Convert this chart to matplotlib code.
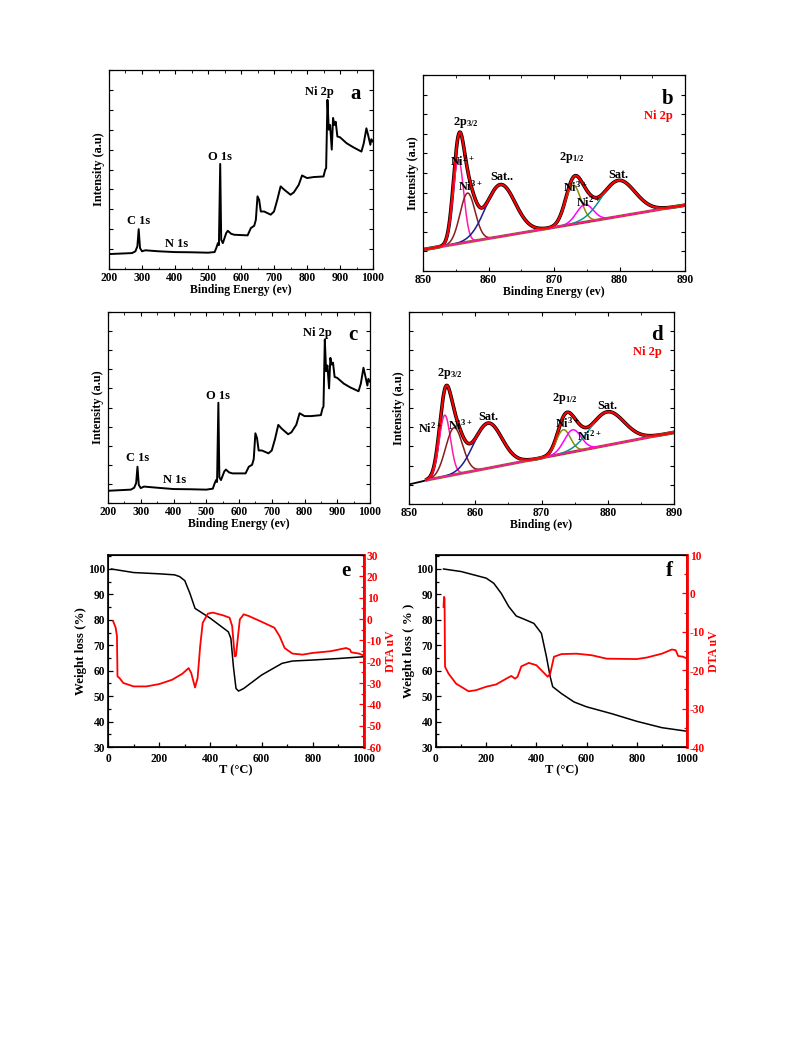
import numpy as np
import matplotlib
matplotlib.use("Agg")
import matplotlib.pyplot as plt
from matplotlib.ticker import MultipleLocator

plt.rcParams['font.family'] = ['Liberation Serif', 'DejaVu Serif']
plt.rcParams['font.weight'] = 'bold'
plt.rcParams['mathtext.fontset'] = 'custom'
plt.rcParams['mathtext.rm'] = 'Liberation Serif:bold'
plt.rcParams['mathtext.bf'] = 'Liberation Serif:bold'
plt.rcParams['mathtext.default'] = 'rm'
plt.rcParams['axes.unicode_minus'] = False

# ---------------- survey spectra (a, c) ----------------
a_energy = [200, 270, 280, 286, 290, 294, 300, 310, 350, 400, 450, 500, 520, 525, 530, 533,
            537, 540, 545, 555, 560, 570, 580, 620, 630, 640, 645, 650, 655, 660, 670, 690,
            700, 710, 720, 730, 750, 760, 775, 785, 800, 820, 850, 855, 858, 862, 866, 870,
            875, 879, 883, 887, 892, 900, 920, 940, 965, 972, 980, 985, 992, 995, 1000]
a_counts = [7.5, 8.0, 8.9, 11.4, 20.0, 10.5, 8.9, 9.4, 8.9, 8.5, 8.4, 8.2, 8.5, 10.5, 13.0, 12.0,
            52.8, 14.7, 13.0, 18.0, 19.2, 17.7, 17.2, 16.9, 20.6, 21.7, 24.7, 36.5, 34.8, 28.9, 28.9, 27.3,
            28.9, 34.8, 41.5, 40.0, 37.3, 38.5, 42.3, 47.0, 45.7, 46.2, 46.5, 49.8, 50.7, 85.0, 70.0, 72.4,
            60.0, 75.9, 72.4, 74.0, 66.6, 66.2, 63.2, 61.2, 59.0, 63.2, 70.7, 67.4, 62.4, 65.2, 64.0]

c_energy = [200, 270, 280, 286, 290, 294, 300, 310, 350, 400, 450, 500, 520, 525, 530, 533,
            537, 540, 545, 555, 560, 570, 580, 620, 630, 640, 645, 650, 655, 660, 670, 690,
            700, 710, 720, 730, 750, 760, 775, 785, 800, 820, 850, 855, 858, 862, 866, 870,
            875, 879, 883, 887, 892, 900, 920, 940, 965, 972, 980, 985, 992, 995, 1000]
c_counts = [6.4, 7.0, 8.0, 10.5, 19.0, 9.5, 7.8, 8.6, 8.0, 7.3, 7.2, 7.0, 7.5, 10.0, 12.0, 11.0,
            52.5, 13.5, 12.0, 16.5, 17.5, 16.0, 15.5, 15.5, 19.0, 20.0, 23.0, 36.5, 34.0, 27.5, 27.5, 26.0,
            27.5, 33.5, 40.9, 39.0, 36.0, 37.0, 41.0, 47.0, 45.5, 45.5, 46.0, 49.5, 50.5, 85.6, 69.0, 72.0,
            60.0, 76.0, 72.5, 73.5, 66.0, 65.5, 62.5, 60.5, 58.5, 62.5, 70.8, 67.0, 61.5, 65.0, 63.5]

survey_labels = ["C 1s", "N 1s", "O 1s", "Ni 2p"]
a_label_pos = [(290, 24), (404, 12.5), (535, 56.5), (838, 89)]
c_label_pos = [(290, 23.5), (404, 12), (535, 56), (838, 89)]

# ---------------- Ni 2p fits (b, d) ----------------
peak_colors = ['#ff1aa8', '#8b1c1c', '#1c1c8c', '#8c8c10', '#ff00ff', '#109090']

b_base_e = [850, 890]
b_base_i = [10.9, 33.6]
b_centers = [855.4, 856.8, 861.8, 872.9, 874.7, 879.8]
b_heights = [43.0, 25.0, 26.5, 20.0, 9.0, 18.4]
b_fwhm = [1.9, 2.7, 5.3, 2.8, 3.0, 6.0]

d_base_e = [852.7, 890]
d_base_i = [12.5, 37.3]
d_centers = [855.4, 856.8, 861.9, 873.3, 874.7, 879.9]
d_heights = [32.0, 24.5, 23.5, 12.5, 11.5, 17.4]
d_fwhm = [2.0, 3.0, 5.0, 2.5, 3.0, 6.0]
d_pre_e = [850.0, 851.0, 852.0, 852.7]
d_pre_i = [10.2, 11.0, 11.8, 12.5]

b_texts = [("2p$_{3/2}$", 856.5, 76), ("Ni$^{2+}$", 856.0, 56), ("Ni$^{3+}$", 857.3, 43),
           ("Sat..", 862.0, 48), ("2p$_{1/2}$", 872.7, 58), ("Ni$^{3+}$", 873.2, 42.5),
           ("Ni$^{2+}$", 875.2, 35), ("Sat.", 879.8, 49)]
d_texts = [("2p$_{3/2}$", 856.1, 68), ("Ni$^{2+}$", 853.3, 39.5), ("Ni$^{3+}$", 857.8, 41),
           ("Sat.", 861.9, 45.5), ("2p$_{1/2}$", 873.5, 55), ("Ni$^{3+}$", 873.9, 42),
           ("Ni$^{2+}$", 877.3, 35), ("Sat.", 880.0, 51)]

# ---------------- thermal analysis (e, f) ----------------
e_tg_t = [13, 100, 200, 260, 280, 300, 320, 340, 360, 400, 470, 480, 490, 500, 510, 530,
          600, 680, 720, 800, 900, 1000]
e_tg_w = [100, 98.6, 98.1, 97.7, 97.0, 95.4, 90.4, 84.5, 83.2, 80.6, 75.3, 72.7, 61.5, 53.0, 52.0, 53.0,
          58.3, 62.9, 63.8, 64.2, 64.8, 65.5]
e_dta_t = [20, 30, 35, 37, 45, 60, 100, 150, 200, 250, 290, 315, 325, 340, 350, 360, 370, 390,
           410, 450, 475, 485, 495, 500, 505, 515, 530, 550, 600, 650, 670, 690, 720, 760, 800,
           870, 930, 945, 950, 980, 1000]
e_dta_v = [-1.0, -4.1, -8.0, -26.9, -27.7, -30.0, -31.6, -31.6, -30.5, -28.5, -25.7, -23.0, -25.3,
           -32.1, -27.7, -12.8, -1.8, 2.5, 3.0, 1.7, 0.6, -3.3, -17.5, -17.2, -11.2, -0.2, 2.2, 1.4,
           -1.3, -4.1, -8.0, -13.6, -16.2, -16.7, -15.9, -15.1, -13.6, -14.3, -15.6, -16.2, -17.2]

f_tg_t = [30, 100, 150, 200, 230, 260, 290, 320, 350, 390, 420, 440, 455, 465, 500, 550, 600,
          700, 800, 900, 1000]
f_tg_w = [100, 99.0, 97.7, 96.4, 94.4, 90.4, 85.2, 81.5, 80.3, 78.6, 74.7, 65.5, 57.6, 53.7, 51.0,
          47.7, 45.8, 43.1, 40.1, 37.6, 36.2]
f_dta_t = [30, 32, 34, 36, 50, 80, 130, 160, 200, 240, 280, 300, 315, 325, 340, 370, 400, 430,
           445, 455, 470, 500, 560, 620, 680, 800, 840, 900, 940, 955, 965, 985, 1000]
f_dta_v = [-3.5, -0.9, -1.3, -19.1, -20.9, -23.5, -25.5, -25.2, -24.3, -23.7, -22.2, -21.5, -22.2,
           -21.7, -19.0, -18.1, -18.7, -20.7, -21.7, -20.9, -16.5, -15.8, -15.7, -16.1, -17.0, -17.1,
           -16.7, -15.7, -14.6, -14.8, -16.3, -16.5, -17.0]

W, H = 793, 1057
fig = plt.figure(figsize=(W / 100, H / 100), dpi=100)


def make_axes(x0, y0, x1, y1):
    return fig.add_axes([x0 / W, 1 - y1 / H, (x1 - x0) / W, (y1 - y0) / H])


def style_xps(ax, xmin, xmax, major, minor, xlabel):
    ax.set_xlim(xmin, xmax)
    ax.set_ylim(0, 100)
    ax.xaxis.set_major_locator(MultipleLocator(major))
    ax.xaxis.set_minor_locator(MultipleLocator(minor))
    ax.yaxis.set_major_locator(MultipleLocator(10))
    ax.tick_params(which='both', direction='in', top=True, right=True, labelsize=8.3, pad=2.5)
    ax.tick_params(which='major', length=3, width=0.8)
    ax.tick_params(which='minor', length=1.8, width=0.6)
    ax.tick_params(axis='y', labelleft=False)
    ax.set_xlabel(xlabel, fontsize=8.5, fontweight='bold', labelpad=0)
    ax.set_ylabel("Intensity (a.u)", fontsize=8.8, fontweight='bold', labelpad=3)
    for s in ax.spines.values():
        s.set_linewidth(0.9)


def survey(ax, en, cts, pos, letter, xlabel):
    ax.plot(en, cts, color='black', lw=1.4)
    for lab, (x, y) in zip(survey_labels, pos):
        ax.text(x, y, lab, ha='center', va='center', fontsize=9, fontweight='bold')
    ax.text(0.935, 0.93, letter, transform=ax.transAxes, ha='center', va='top',
            fontsize=15, fontweight='bold')
    style_xps(ax, 200, 1000, 100, 50, xlabel)


def fit_panel(ax, base_e, base_i, centers, heights, fwhm, texts, letter, xlabel, pre=None):
    e = np.linspace(base_e[0], base_e[1], 800)
    base = np.interp(e, base_e, base_i)
    total = base.copy()
    comps = []
    for c, h, w in zip(centers, heights, fwhm):
        g = h * np.exp(-4 * np.log(2) * ((e - c) / w) ** 2)
        comps.append(base + g)
        total = total + g
    if pre is not None:
        ax.plot(pre[0], pre[1], color='black', lw=1.3)
    ax.plot(e, total, color='black', lw=2.6)
    ax.plot(base_e, base_i, color='#8c8c10', lw=2.2)
    for comp, col in zip(comps, peak_colors):
        ax.plot(e, comp, color=col, lw=1.1)
    ax.plot(base_e, base_i, color='#ff1a8c', lw=1.3)
    ax.plot(e, total, color='#ff0000', lw=1.5)
    for t, x, y in texts:
        ax.text(x, y, t, ha='center', va='center', fontsize=8.8, fontweight='bold')
    ax.text(0.90, 0.79, "Ni 2p", transform=ax.transAxes, ha='center', va='center',
            color='#ff0000', fontsize=9, fontweight='bold')
    ax.text(0.935, 0.93, letter, transform=ax.transAxes, ha='center', va='top',
            fontsize=15, fontweight='bold')
    style_xps(ax, 850, 890, 10, 5, xlabel)


def thermal(ax, tg_t, tg_w, dta_t, dta_v, ylo, yhi, letter, wlabel):
    ax.plot(tg_t, tg_w, color='black', lw=1.1)
    ax.set_xlim(0, 1000)
    ax.set_ylim(30, 105.5)
    ax.xaxis.set_major_locator(MultipleLocator(200))
    ax.xaxis.set_minor_locator(MultipleLocator(100))
    ax.yaxis.set_minor_locator(MultipleLocator(5))
    ax.set_yticks([30, 40, 50, 60, 70, 80, 90, 100])
    ax.tick_params(which='both', direction='in', labelsize=8.3, width=0.9, pad=2)
    ax.tick_params(axis='x', which='both', pad=4.5)
    ax.tick_params(which='major', length=3.5)
    ax.tick_params(which='minor', length=2)
    ax.set_xlabel("T (°C)", fontsize=9, fontweight='bold', labelpad=-1)
    ax.set_ylabel(wlabel, fontsize=9.3, fontweight='bold', labelpad=1)
    for s in ax.spines.values():
        s.set_linewidth(1.2)
    ax.text(0.93, 0.97, letter, transform=ax.transAxes, ha='center', va='top',
            fontsize=15, fontweight='bold')
    ax2 = ax.twinx()
    ax2.plot(dta_t, dta_v, color='#ff0000', lw=1.3)
    ax2.set_ylim(ylo, yhi)
    ax2.yaxis.set_major_locator(MultipleLocator(10))
    ax2.yaxis.set_minor_locator(MultipleLocator(5))
    ax2.tick_params(which='both', direction='in', colors='#ff0000', labelsize=8.3, width=0.9, pad=2)
    ax2.tick_params(which='major', length=3.5)
    ax2.tick_params(which='minor', length=2)
    ax2.spines['right'].set_color('#ff0000')
    ax2.spines['right'].set_linewidth(2.0)
    ax2.set_ylabel("DTA uV", color='#ff0000', fontsize=8.5, fontweight='bold', labelpad=2)
    return ax2


ax_a = make_axes(109, 70, 373, 269)
survey(ax_a, a_energy, a_counts, a_label_pos, "a", "Binding Energy (ev)")

ax_b = make_axes(423, 75, 685, 271)
fit_panel(ax_b, b_base_e, b_base_i, b_centers, b_heights, b_fwhm, b_texts, "b",
          "Binding Energy (ev)")

ax_c = make_axes(108, 312, 370, 503)
survey(ax_c, c_energy, c_counts, c_label_pos, "c", "Binding Energy (ev)")

ax_d = make_axes(409, 312, 674, 504)
fit_panel(ax_d, d_base_e, d_base_i, d_centers, d_heights, d_fwhm, d_texts, "d",
          "Binding (ev)", pre=(d_pre_e, d_pre_i))

ax_e = make_axes(108, 555, 364, 747)
thermal(ax_e, e_tg_t, e_tg_w, e_dta_t, e_dta_v, -60, 30, "e", "Weight loss (%)")

ax_f = make_axes(436, 555, 687, 747)
thermal(ax_f, f_tg_t, f_tg_w, f_dta_t, f_dta_v, -40, 10, "f", "Weight loss ( % )")

fig.savefig("out.png", dpi=100)
